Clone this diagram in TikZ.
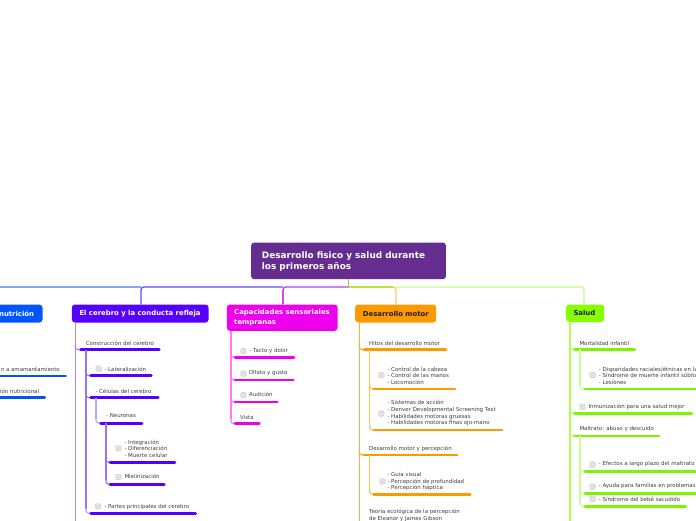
\documentclass[tikz,border=0pt]{standalone}
\usepackage{fontspec}
\setmainfont{DejaVu Sans}
\definecolor{rootc}{RGB}{102,45,145}
\definecolor{stemc}{RGB}{170,195,50}
\definecolor{nutc}{RGB}{0,85,255}
\definecolor{nutbus}{RGB}{128,168,248}
\definecolor{cerc}{RGB}{85,0,255}
\definecolor{cerbus}{RGB}{100,70,255}
\definecolor{certr}{RGB}{170,135,255}
\definecolor{cersub}{RGB}{150,115,255}
\definecolor{cersubb}{RGB}{185,165,255}
\definecolor{senc}{RGB}{238,0,238}
\definecolor{senbus}{RGB}{180,60,255}
\definecolor{sendrop}{RGB}{230,60,240}
\definecolor{sentr}{RGB}{255,120,255}
\definecolor{motc}{RGB}{255,153,0}
\definecolor{motbus}{RGB}{190,225,60}
\definecolor{motdrop}{RGB}{255,200,120}
\definecolor{mottr}{RGB}{255,175,60}
\definecolor{motsub}{RGB}{255,195,90}
\definecolor{salc}{RGB}{136,255,0}
\definecolor{salu}{RGB}{125,245,0}
\definecolor{salbus}{RGB}{195,255,130}
\definecolor{saltr}{RGB}{175,255,90}
\definecolor{salsub}{RGB}{200,255,140}
\definecolor{txt}{RGB}{60,60,60}
\definecolor{dark}{RGB}{30,30,30}
\definecolor{cbf}{RGB}{225,225,225}
\definecolor{cbd}{RGB}{205,205,205}
\newcommand\mmsub[6]{%
  \draw[#5,line width=1.2pt,rounded corners=3pt] (#1,#4-5) -- (#1,#4) -- (#2+1,#4);
  \draw[#6,line width=2.6pt,line cap=round] (#2,#4) -- (#3,#4);}
\begin{document}
\begin{tikzpicture}[x=1pt,y=-1pt,
  box/.style={rounded corners=3pt, inner sep=0pt, anchor=north west, draw=none},
  ht/.style={font=\fontsize{6.9}{9.3}\selectfont\bfseries, inner sep=0pt, anchor=west, align=left},
  st/.style={font=\fontsize{5.45}{6.6}\selectfont, text=txt, inner sep=0pt, anchor=west, align=left},
  cb/.style={fill=cbf, draw=cbd, line width=0.4pt, rounded corners=1.2pt, minimum size=5.6pt, inner sep=0pt},
  bus/.style={line width=1.3pt, rounded corners=3pt},
  trunk/.style={line width=1.2pt}]
\useasboundingbox (0,0) rectangle (696,520);
\clip (0,0) rectangle (696,520);

% root
\node[box, fill=rootc, minimum width=194.7pt, minimum height=36.7pt] (root) at (251,242.3) {};
\node[font=\fontsize{8.9}{11.6}\selectfont\bfseries, text=white, inner sep=0pt, anchor=west, align=left] (roott) at ([xshift=10.7pt,yshift=-0.8pt]root.west) {Desarrollo fisico y salud durante\\los primeros años};

% header boxes
\node[box, fill=nutc, minimum width=62.3pt, minimum height=17.8pt] (nut) at (-20,304.5) {};
\node[ht, text=white, anchor=east] (nutt) at (34.3,313.6) {nutrición};
\node[box, fill=cerc, minimum width=136.6pt, minimum height=18pt] (cer) at (71.7,304.3) {};
\node[ht, text=white] (cert) at ([xshift=7.6pt]cer.west) {El cerebro y la conducta refleja};
\node[box, fill=senc, minimum width=110.6pt, minimum height=26.4pt] (sen) at (226.7,304.3) {};
\node[ht, text=white] (sent) at ([xshift=7.3pt]sen.west) {Capacidades sensoriales\\tempranas};
\node[box, fill=motc, minimum width=81pt, minimum height=18pt] (mot) at (355,304.3) {};
\node[ht, text=dark] (mott) at ([xshift=7.7pt]mot.west) {Desarrollo motor};
\node[box, fill=salc, minimum width=38pt, minimum height=17.5pt] (sal) at (566,304.3) {};
\node[ht, text=dark] (salt) at ([xshift=7.3pt]sal.west) {Salud};

% bus connectors
\coordinate (hub) at (root.south |- 0,287);
\draw[nutbus, bus] (141,287) -- (-5,287);
\draw[cerbus, bus] (283,287) -- (141,287) -- (cer.north -| 141,0);
\draw[senbus, bus] (hub) -- (283,287) -- (sen.north -| 283,0);
\draw[sendrop, line width=1.3pt] (283,290) -- (sen.north -| 283,0);
\draw[motdrop, bus] (hub) -- (396,287) -- (mot.north -| 396,0);
\draw[salbus, bus] (396,287) -- (584,287) -- (sal.north -| 584,0);
\draw[motbus, line width=1.3pt] (hub) -- (392.5,287);
\draw[stemc, line width=1.3pt] (root.south) -- (hub);

% ---- nutricion
\draw[nutc,line width=2.6pt,line cap=round] (-10,376) -- (65.7,376);
\node[st, anchor=east] (n1) at (60,369.3) {n a amamantamiento};
\draw[nutc,line width=2.6pt,line cap=round] (-10,397.7) -- (44.7,397.7);
\node[st, anchor=east] (n2) at (39.3,391) {ión nutricional};

% ---- cerebro
\draw[certr, trunk] (cer.south -| 75.3,0) -- (75.3,525);
\mmsub{75.3}{80.7}{159.3}{349.7}{certr}{cerc}
\node[st] (c1) at (85.7,343.3) {Construcción del cerebro};
\draw[cersub, trunk] (86,349.7) -- (86,509);
\mmsub{86}{90.7}{151.3}{375.7}{cersub}{cerc}
\node[cb] (c2b) at (98.7,368.7) {};
\node[st] (c2) at (104.3,369) {- Lateralización};
\mmsub{86}{90.7}{158.3}{397.7}{cersub}{cerc}
\node[st] (c3) at (95.3,391) {- Células del cerebro};
\draw[cersubb, trunk] (96,397.7) -- (96,419);
\mmsub{96}{100.7}{142}{423.3}{cersubb}{cerc}
\node[st] (c4) at (106,416) {- Neuronas};
\draw[cersub, trunk] (106,423.3) -- (106,480);
\mmsub{106}{110}{175}{462.3}{cersub}{cerc}
\node[cb] (c5b) at (118.3,448.3) {};
\node[st] (c5) at (124.3,448.7) {- Integración\\- Diferenciación\\- Muerte celular};
\mmsub{106}{110}{164.3}{484.3}{cersub}{cerc}
\node[cb] (c6b) at (118.3,477) {};
\node[st] (c6) at (124.3,476.7) {Mielinización};
\mmsub{86}{90.7}{195.7}{513.3}{cersubb}{cerc}
\node[cb] (c7b) at (98,506.3) {};
\node[st] (c7) at (104.3,507) {- Partes principales del cerebro};

% ---- sensoriales
\draw[sentr, trunk] (sen.south -| 231,0) -- (231,419);
\mmsub{231}{235}{294}{357.3}{sentr}{senc}
\node[cb] (s1b) at (243.3,351.2) {};
\node[st] (s1) at (249.3,350.7) {- Tacto y dolor};
\mmsub{231}{235}{293.3}{380}{sentr}{senc}
\node[cb] (s2b) at (243.3,373.5) {};
\node[st] (s2) at (248.7,373.3) {Olfato y gusto};
\mmsub{231}{235}{277.3}{402}{sentr}{senc}
\node[cb] (s3b) at (243.3,395.2) {};
\node[st] (s3) at (249,394.7) {Audición};
\mmsub{231}{235}{259.3}{423.7}{sentr}{senc}
\node[st] (s4) at (240,417) {Vista};

% ---- motor
\draw[mottr, trunk] (mot.south -| 359.3,0) -- (359.3,525);
\mmsub{359.3}{364}{446}{349.7}{mottr}{motc}
\node[st] (m1) at (369,343.3) {Hitos del desarrollo motor};
\draw[motsub, trunk] (369.7,349.7) -- (369.7,426);
\mmsub{369.7}{373.7}{455}{389}{motsub}{motc}
\node[cb] (m2b) at (381.3,375.2) {};
\node[st] (m2) at (387.3,375.7) {- Control de la cabeza\\- Control de las manos\\- Locomoción};
\mmsub{369.7}{373.7}{502}{430}{motsub}{motc}
\node[cb] (m3b) at (381.3,413.5) {};
\node[st] (m3) at (387.3,413.2) {- Sistemas de acción\\- Denver Developmental Screening Test\\- Habilidades motoras gruesas\\- Habilidades motoras finas ojo-mano};
\mmsub{359.3}{364}{457.3}{455}{mottr}{motc}
\node[st] (m4) at (369,449) {Desarrollo motor y percepción};
\draw[motsub, trunk] (369.7,455) -- (369.7,490);
\mmsub{369.7}{373.7}{470.3}{494.3}{motsub}{motc}
\node[cb] (m5b) at (382.3,481.3) {};
\node[st] (m5) at (387.3,481.7) {- Guía visual\\- Percepción de profundidad\\- Percepción háptica};
\node[st] (m6) at (369,515.6) {Teoría ecológica de la percepción\\de Eleanor y James Gibson};

% ---- salud
\draw[saltr, trunk] (sal.south -| 570,0) -- (570,525);
\mmsub{570}{574.7}{634.7}{349.3}{saltr}{salu}
\node[st] (h1) at (579.3,343.3) {Mortalidad infantil};
\draw[salsub, trunk] (580,349.3) -- (580,385);
\mmsub{580}{585}{710}{389}{salsub}{salu}
\node[cb] (h2b) at (592.5,375) {};
\node[st] (h2) at (598.7,375.5) {- Disparidades raciales/étnicas en la mortalidad infantil\\- Síndrome de muerte infantil súbita\\- Lesiones};
\mmsub{570}{574.7}{691.7}{413.3}{saltr}{salu}
\node[cb] (h3b) at (582.3,406.8) {};
\node[st] (h3) at (588.3,407) {Inmunización para una salud mejor};
\mmsub{570}{574.7}{659.3}{436}{saltr}{salu}
\node[st] (h4) at (579.3,429) {Maltrato: abuso y descuido};
\draw[salsub, trunk] (580,436) -- (580,502);
\mmsub{580}{585}{710}{471.3}{salsub}{salu}
\node[cb] (h5b) at (592.5,464.5) {};
\node[st] (h5) at (598.7,464) {- Efectos a largo plazo del maltrato};
\mmsub{580}{585}{710}{493.3}{salsub}{salu}
\node[cb] (h6b) at (592.5,486.5) {};
\node[st] (h6) at (598.7,486.3) {- Ayuda para familias en problemas};
\mmsub{580}{585}{685.7}{506.3}{salsub}{salu}
\node[cb] (h7b) at (592.5,498.9) {};
\node[st] (h7) at (598.7,499.3) {- Síndrome del bebé sacudido};
\end{tikzpicture}
\end{document}
